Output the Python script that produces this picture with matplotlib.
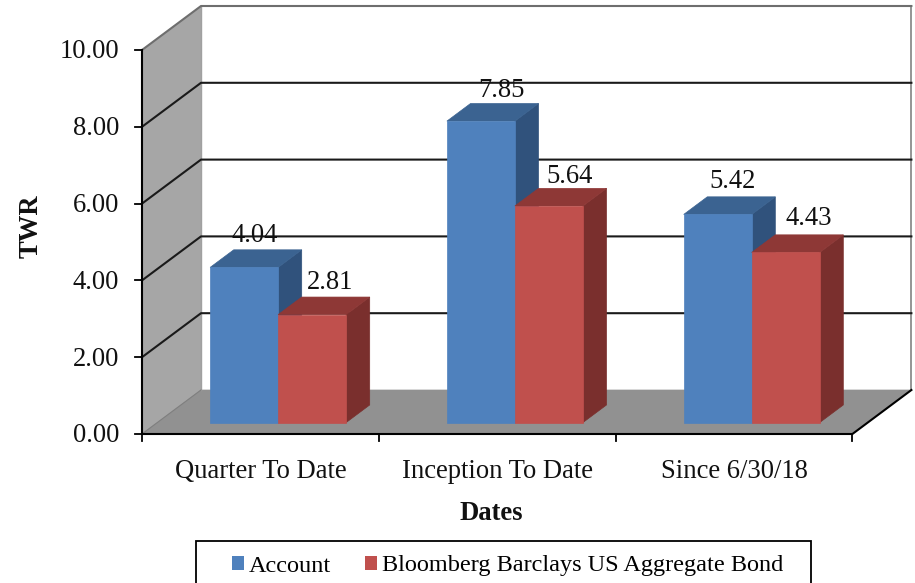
import matplotlib
matplotlib.use("Agg")
import matplotlib.pyplot as plt
from matplotlib.patches import Polygon, Patch, Rectangle

categories = ["Quarter To Date", "Inception To Date", "Since 6/30/18"]
account = [4.04, 7.85, 5.42]
bloomberg = [2.81, 5.64, 4.43]
series_names = ["Account", "Bloomberg Barclays US Aggregate Bond"]
y_ticks = [0, 2, 4, 6, 8, 10]

# nudges for the value labels, in pixels
label_dx = [[11, 21, 15], [18, 21, 23]]
label_dy = [[32, 31, 33], [32, 29, 34]]

BLUE = ("#4F81BD", "#3B6391", "#30527C")
RED = ("#C0504D", "#8E3836", "#7A2F2D")

W, H = 915, 583
X0, Y0 = 142, 434      # pixel position of the front corner
X_UNIT, Y_UNIT = 236.8, 38.4
DX = 59 / X_UNIT       # full depth of the box, in data units
DY = 44 / Y_UNIT
BAR_W = 68 / X_UNIT
D_FRONT, D_BACK = 0.26, 0.66
N = len(categories)
TEXT = "#111111"
FS = 19.2

plt.rcParams["font.family"] = ["Liberation Serif", "DejaVu Serif"]

fig = plt.figure(figsize=(W / 100, H / 100), dpi=100, facecolor="white")
ax = fig.add_axes([0, 0, 1, 1])
ax.set_xlim(-X0 / X_UNIT, (W - X0) / X_UNIT)
ax.set_ylim((Y0 - H) / Y_UNIT, Y0 / Y_UNIT)
ax.axis("off")


def pr(x, y, d=0.0):
    return (x + d * DX, y + d * DY)


def poly(points, color, z=1):
    ax.add_patch(Polygon(points, closed=True, facecolor=color, edgecolor=color, linewidth=0.5, zorder=z))


# -----------------------
# Walls and floor
# -----------------------
top = y_ticks[-1]
poly([pr(0, 0), pr(0, 0, 1), pr(0, top, 1), pr(0, top)], "#A6A6A6")
poly([pr(0, 0), pr(N, 0), pr(N, 0, 1), pr(0, 0, 1)], "#919191")

ax.plot(*zip(pr(0, 0, 1), pr(0, top, 1)), color="#A0A0A0", lw=1, zorder=2)
ax.plot(*zip(pr(N, 0, 1), pr(N, top, 1)), color="#8C8C8C", lw=1.3, zorder=2)
ax.plot(*zip(pr(0, 0), pr(0, 0, 1)), color="#7F7F7F", lw=0.8, zorder=2)

for v in y_ticks[1:]:
    c = "#6E6E6E" if v == top else "#1A1A1A"
    ax.plot(*zip(pr(0, v), pr(0, v, 1), pr(N, v, 1)), color=c, lw=1.5, zorder=2)

# -----------------------
# Bars
# -----------------------
for k, (values, cols) in enumerate(zip([account, bloomberg], [BLUE, RED])):
    for i, v in enumerate(values):
        x1 = i + 0.51 - BAR_W + k * BAR_W
        x2 = x1 + BAR_W
        poly([pr(x2, 0, D_FRONT), pr(x2, 0, D_BACK), pr(x2, v, D_BACK), pr(x2, v, D_FRONT)], cols[2], 3)
        poly([pr(x1, v, D_FRONT), pr(x2, v, D_FRONT), pr(x2, v, D_BACK), pr(x1, v, D_BACK)], cols[1], 3)
        poly([pr(x1, 0, D_FRONT), pr(x2, 0, D_FRONT), pr(x2, v, D_FRONT), pr(x1, v, D_FRONT)], cols[0], 3)
        ax.annotate(f"{v:.2f}", xy=pr((x1 + x2) / 2, v, D_FRONT),
                    xytext=(label_dx[k][i], label_dy[k][i]), textcoords="offset pixels",
                    ha="center", va="center", fontsize=FS, color=TEXT, zorder=5)

# -----------------------
# Axis lines, ticks, labels
# -----------------------
ax.plot([0, 0], [0, top], color="black", lw=1.5, zorder=4)
ax.plot(*zip(pr(0, 0), pr(N, 0), pr(N, 0, 1)), color="black", lw=1.5, zorder=4)

tick_x = 7 / X_UNIT
tick_y = 7 / Y_UNIT
for v in y_ticks:
    ax.plot([-tick_x, 0], [v, v], color="black", lw=1.3, zorder=4)
    ax.text(-23 / X_UNIT, v - 2 / Y_UNIT, f"{v:.2f}", ha="right", va="center", fontsize=FS, color=TEXT)
for i in range(N + 1):
    ax.plot([i, i], [0, -tick_y], color="black", lw=1.3, zorder=4)
for i, name in enumerate(categories):
    ax.text(i + 0.5, -37 / Y_UNIT, name, ha="center", va="center", fontsize=FS, color=TEXT)

ax.text(-111 / X_UNIT, 5.4, "TWR", rotation=90, ha="center", va="center",
        fontsize=FS, fontweight="bold", color=TEXT)
ax.text(1.475, -79 / Y_UNIT, "Dates", ha="center", va="center",
        fontsize=FS, fontweight="bold", color=TEXT)

# -----------------------
# Legend (frame runs off the bottom edge)
# -----------------------
fig.add_artist(Rectangle((196 / W, -0.02), 615 / W, 0.02 + (H - 541) / H, transform=fig.transFigure,
                         facecolor="white", edgecolor="black", linewidth=1.3, zorder=5))
handles = [Patch(facecolor=BLUE[0], label=series_names[0]), Patch(facecolor=RED[0], label=series_names[1])]
leg = fig.legend(handles=handles, loc="center left", bbox_to_anchor=(232 / W, 1 - 566 / H),
                 ncol=2, frameon=False, fontsize=17.5, handlelength=0.5, handleheight=0.55,
                 handletextpad=0.2, columnspacing=1.4, borderpad=0, borderaxespad=0)
leg.set_zorder(6)

plt.savefig("out.png", dpi=100, facecolor="white")
plt.close()
